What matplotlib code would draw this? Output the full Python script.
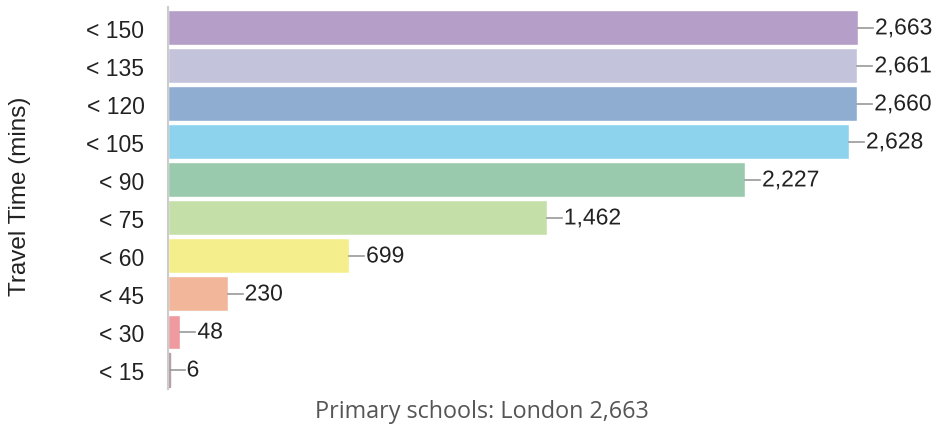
import matplotlib.pyplot as plt
import matplotlib.patheffects as pe

# 数据
categories = ['< 150', '< 135', '< 120', '< 105', '< 90', '< 75', '< 60', '< 45', '< 30', '< 15']
values = [2663, 2661, 2660, 2628, 2227, 1462, 699, 230, 48, 6]
colors = ['#b59ec8', '#c3c4db', '#8eadd1', '#8dd3ee', '#9acaad',
          '#c5dfa9', '#f4ef8c', '#f2b79b', '#ef9a9f', '#b8a0a6']
total_label = 'Primary schools: London 2,663'

fig = plt.figure(figsize=(9.36, 4.27), dpi=100)
ax = fig.add_axes([168 / 936, 1 - 390 / 427, 690 / 936, 382 / 427])

y = list(range(len(categories)))
edges = ['white'] * (len(values) - 1) + [colors[-1]]
ax.barh(y, values, height=0.92, color=colors, edgecolor=edges, linewidth=1)
ax.set_ylim(len(categories) - 0.5, -0.55)
ax.set_xlim(0, max(values))

# 标签 + 引线 (像素换算成数据单位)
px = max(values) / 690
for yi, v in zip(y, values):
    ax.plot([v, v + 15 * px], [yi, yi], color='#999999', lw=1.2, clip_on=False, zorder=1)
    ax.text(v + 17 * px, yi, f'{v:,}', va='center', ha='left',
            fontsize=16.5, family='Liberation Sans', color='#222222',
            path_effects=[pe.withStroke(linewidth=2, foreground='white')])

ax.set_yticks(y)
ax.set_yticklabels(categories, fontsize=16.5, family='Liberation Sans', color='#222222')
ax.tick_params(axis='y', length=0, pad=17)
ax.set_xticks([])

for s in ['top', 'right', 'bottom']:
    ax.spines[s].set_visible(False)
ax.spines['left'].set_color('#cccccc')
ax.spines['left'].set_linewidth(1.5)

fig.text(20 / 936, 1 - 196 / 427, 'Travel Time (mins)', rotation=90, va='center', ha='center',
         fontsize=17.5, family='Liberation Sans', color='#222222')
fig.text(482 / 936, 1 - 412 / 427, total_label, va='center', ha='center',
         fontsize=16.8, family='Open Sans', color='#555555')

fig.savefig('out.png', dpi=100)
